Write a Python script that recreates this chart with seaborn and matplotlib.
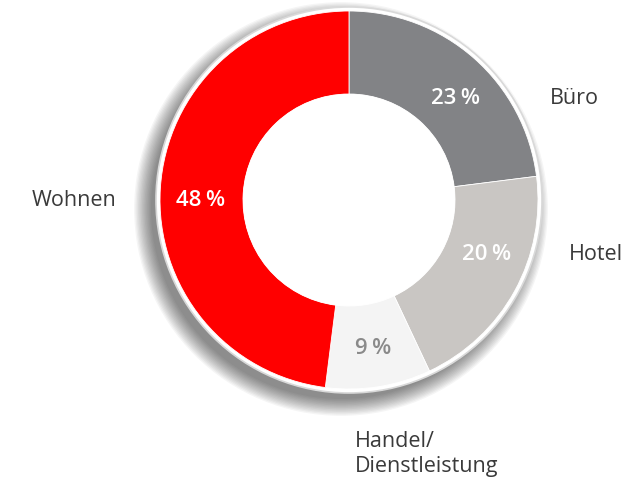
import matplotlib.pyplot as plt
import matplotlib.patches as mpatches
import seaborn as sns

# Daten
kategorien = ['Büro', 'Hotel', 'Handel/\nDienstleistung', 'Wohnen']
anteile = [23, 20, 9, 48]
farben = ['#828386', '#c9c6c3', '#f4f4f4', '#ff0000']
pct_farben = ['white', 'white', '#8a8a8a', 'white']

sns.set_theme(style='white')
plt.rcParams['font.family'] = ['Open Sans', 'DejaVu Sans']

fig = plt.figure(figsize=(6.4, 4.85), dpi=100)
ax = fig.add_axes([0, 0, 1, 1])
ax.set_xlim(0, 640)
ax.set_ylim(0, 485)
ax.set_aspect('equal')
ax.axis('off')

cx, cy, r = 349, 284, 189
r_innen = 106

# Schatten nach links unten
for i in range(14):
    ax.add_patch(mpatches.Circle((cx - 8, cy - 9), r + 1 + i * 1.3,
                                 color='black', alpha=0.04, lw=0, zorder=0))
# heller Rand
ax.add_patch(mpatches.Circle((cx, cy), r + 4, facecolor='white',
                             edgecolor='#d9d9d9', lw=1.2, zorder=1))

palette = sns.color_palette(farben)
wedges, texte, pct_texte = ax.pie(
    anteile, colors=palette, startangle=90, counterclock=False,
    center=(cx, cy), radius=r, wedgeprops=dict(width=r - r_innen, lw=0.6, edgecolor='white'),
    autopct=lambda p: f'{p:.0f}\u2009%', pctdistance=0.79,
    textprops=dict(fontsize=16, weight='semibold'))
for w in wedges:
    w.set_zorder(2)

# Prozentwerte etwas verschoben wie im Original
pct_pos = [(455, 387), (487, 230), (373, 136), (201, 285)]
for t, c, p in zip(pct_texte, pct_farben, pct_pos):
    t.set_color(c)
    t.set_zorder(4)
    t.set_position(p)

# Loch weiß
ax.add_patch(mpatches.Circle((cx, cy), r_innen, color='white', lw=0, zorder=3))

ax.set_xlim(0, 640)
ax.set_ylim(0, 485)

# Beschriftungen
label_pos = [(550, 387, 'left'), (569, 230, 'left'), (355, 31, 'left'), (116, 285, 'right')]
for name, (x, y, ha) in zip(kategorien, label_pos):
    ax.text(x, y, name, ha=ha, va='center', fontsize=15.5, color='#3a3a3a',
            linespacing=1.2)

fig.savefig('out.png', dpi=100)
